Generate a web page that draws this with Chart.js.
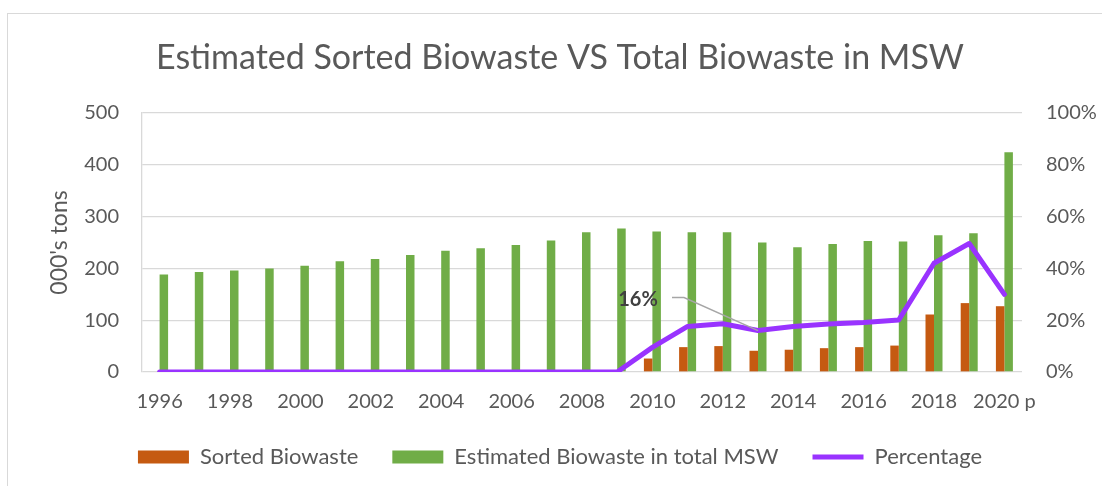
<!DOCTYPE html>
<html>
<head>
<meta charset="utf-8">
<script src="https://cdn.jsdelivr.net/npm/chart.js@4.4.1/dist/chart.umd.min.js"></script>
<style>
  html, body { margin: 0; padding: 0; background: #ffffff; overflow: hidden; }
  body { width: 1102px; height: 486px; position: relative; }
  #frame { position: absolute; left: 7px; top: 13px; width: 1104px; height: 480px;
           border-left: 1px solid #d9d9d9; border-top: 1px solid #d9d9d9; box-sizing: border-box; }
  #wrap { position: absolute; left: 8px; top: 13px; width: 1104px; height: 473px; }
</style>
</head>
<body>
<div id="frame"></div>
<div id="wrap"><canvas id="c"></canvas></div>
<script>
const categories = ['1996','1997','1998','1999','2000','2001','2002','2003','2004','2005','2006','2007','2008','2009','2010','2011','2012','2013','2014','2015','2016','2017','2018','2019','2020 p'];
const sortedBiowaste = [null,null,null,null,null,null,null,null,null,null,null,null,null,null,26,48,50,41,43,46,48,51,111,133,127];
const totalBiowaste = [188,193,196,200,205,214,218,226,234,239,245,254,270,277,271,270,270,250,241,247,253,252,264,268,424];
const percentage = [0,0,0,0,0,0,0,0,0,0,0,0,0,0,9.5,17.6,18.6,16,17.6,18.5,19.1,20.1,42,49.6,30];
const leftTicks = [0,100,200,300,400,500];
const rightTicks = [0,20,40,60,80,100];
const labelledIndex = 17; // 2013 -> "16%"

const TEXT = '#595959';
const FONT = 'Lato, "Open Sans", sans-serif';

const dataLabelPlugin = {
  id: 'dataLabel',
  afterDatasetsDraw(chart) {
    const meta = chart.getDatasetMeta(2);
    const pt = meta.data[labelledIndex];
    if (!pt) return;
    const ctx = chart.ctx;
    const px = pt.x, py = pt.y;
    ctx.save();
    ctx.strokeStyle = '#a6a6a6';
    ctx.lineWidth = 1.5;
    ctx.beginPath();
    ctx.moveTo(px - 86, py - 33);
    ctx.lineTo(px - 74, py - 33);
    ctx.lineTo(px, py);
    ctx.stroke();
    ctx.fillStyle = '#404040';
    ctx.font = 'bold 20px ' + FONT;
    ctx.textAlign = 'center';
    ctx.textBaseline = 'middle';
    ctx.fillText(Math.round(percentage[labelledIndex]) + '%', px - 120, py - 31);
    ctx.restore();
  }
};

new Chart(document.getElementById('c'), {
  data: {
    labels: categories,
    datasets: [
      { type: 'bar', label: 'Sorted Biowaste', data: sortedBiowaste, backgroundColor: '#c55a11',
        yAxisID: 'y', order: 1, categoryPercentage: 0.483, barPercentage: 1.0, pointStyle: 'rect', borderWidth: 0 },
      { type: 'bar', label: 'Estimated Biowaste in total MSW', data: totalBiowaste, backgroundColor: '#70ad47',
        yAxisID: 'y', order: 2, categoryPercentage: 0.483, barPercentage: 1.0, pointStyle: 'rect', borderWidth: 0 },
      { type: 'line', label: 'Percentage', data: percentage, borderColor: '#9933ff', backgroundColor: '#9933ff',
        borderWidth: 5, pointRadius: 0, tension: 0, yAxisID: 'y1', order: 0, pointStyle: 'line',
        borderJoinStyle: 'round', borderCapStyle: 'round' }
    ]
  },
  options: {
    responsive: true,
    maintainAspectRatio: false,
    animation: false,
    layout: { padding: { left: 0, right: 0, top: 0, bottom: 8 } },
    plugins: {
      tooltip: { enabled: false },
      title: {
        display: true,
        text: 'Estimated Sorted Biowaste VS Total Biowaste in MSW',
        color: TEXT,
        font: { family: FONT, size: 34, weight: 'normal' },
        padding: { top: 24.6, bottom: 34.6 }
      },
      legend: {
        position: 'bottom',
        labels: {
          color: TEXT,
          font: { family: FONT, size: 22 },
          usePointStyle: true,
          pointStyleWidth: 51,
          boxHeight: 13,
          padding: 34,
          sort: (a, b) => a.datasetIndex - b.datasetIndex
        }
      }
    },
    scales: {
      x: {
        grid: { display: false, drawTicks: false },
        border: { display: false },
        ticks: {
          color: TEXT, font: { family: FONT, size: 20 }, autoSkip: false, maxRotation: 0, padding: 18,
          callback: function (val, idx) { return idx % 2 === 0 ? this.getLabelForValue(val) : ''; }
        },
        afterFit: (s) => { s.height = 40; }
      },
      y: {
        position: 'left',
        min: 0, max: 500,
        afterBuildTicks: (s) => { s.ticks = leftTicks.map(v => ({ value: v })); },
        grid: { color: '#d9d9d9', lineWidth: 1.3, drawTicks: false },
        border: { display: true, color: '#d9d9d9', width: 1.3 },
        ticks: { color: TEXT, font: { family: FONT, size: 20 }, padding: 23 },
        title: { display: true, text: "000's tons", color: TEXT, font: { family: FONT, size: 23 }, padding: { top: 38, bottom: 0 } },
        afterFit: (s) => { s.width = 134; }
      },
      y1: {
        position: 'right',
        min: 0, max: 100,
        afterBuildTicks: (s) => { s.ticks = rightTicks.map(v => ({ value: v })); },
        grid: { display: false, drawTicks: false },
        border: { display: false },
        ticks: { color: TEXT, font: { family: FONT, size: 20 }, padding: 24, callback: (v) => v + '%' },
        afterFit: (s) => { s.width = 90; }
      }
    }
  },
  plugins: [dataLabelPlugin]
});
</script>
</body>
</html>
